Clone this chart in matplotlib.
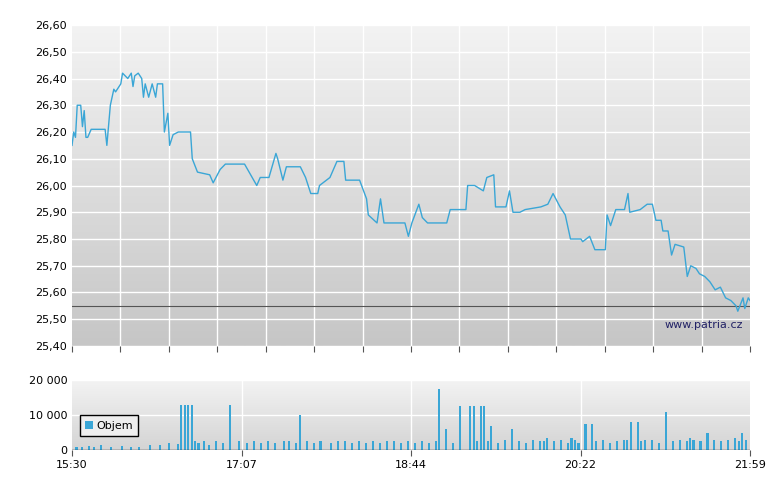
import matplotlib
matplotlib.use("Agg")
import matplotlib.pyplot as plt
import numpy as np

# minutes since 15:30
t_price = [0,1,2,3,5,6,7,8,9,11,16,19,20,22,24,25,28,29,32,34,35,36,38,40,41,42,44,46,48,49,52,53,55,56,58,61,68,69,72,79,81,85,88,99,106,108,113,117,118,121,123,131,134,137,141,142,148,152,156,157,165,169,170,175,177,179,191,193,195,199,201,204,215,217,226,227,231,236,238,242,243,249,251,253,257,260,269,273,276,280,283,286,292,293,297,300,306,307,309,312,317,319,320,326,330,333,335,338,339,342,344,346,351,353,355,358,360,363,366,369,372,375,378,381,382,385,386,388,389]
price = [26.15,26.20,26.18,26.30,26.30,26.22,26.28,26.18,26.18,26.21,26.21,26.21,26.15,26.30,26.36,26.35,26.38,26.42,26.40,26.42,26.37,26.41,26.42,26.40,26.33,26.38,26.33,26.38,26.33,26.38,26.38,26.20,26.27,26.15,26.19,26.20,26.20,26.10,26.05,26.04,26.01,26.06,26.08,26.08,26.00,26.03,26.03,26.12,26.10,26.02,26.07,26.07,26.03,25.97,25.97,26.00,26.03,26.09,26.09,26.02,26.02,25.95,25.89,25.86,25.95,25.86,25.86,25.81,25.86,25.93,25.88,25.86,25.86,25.91,25.91,26.00,26.00,25.98,26.03,26.04,25.92,25.92,25.98,25.90,25.90,25.91,25.92,25.93,25.97,25.92,25.89,25.80,25.80,25.79,25.81,25.76,25.76,25.89,25.85,25.91,25.91,25.97,25.90,25.91,25.93,25.93,25.87,25.87,25.83,25.83,25.74,25.78,25.77,25.66,25.70,25.69,25.67,25.66,25.64,25.61,25.62,25.58,25.57,25.55,25.53,25.58,25.54,25.58,25.57]
n = min(len(t_price), len(price))
t_price, price = t_price[:n], price[:n]
ref_price = 25.55

t_vol = [2,5,9,12,16,22,28,33,38,44,50,55,60,62,64,66,68,70,72,75,78,82,86,90,95,100,104,108,112,116,121,124,128,130,134,138,142,148,152,156,160,164,168,172,176,180,184,188,192,196,200,204,208,210,214,218,222,228,230,232,234,236,238,240,244,248,252,256,260,264,268,270,272,276,280,284,286,288,290,294,298,300,304,308,312,316,318,320,324,326,328,332,336,340,344,348,352,354,356,360,364,368,372,376,380,382,384,386,389]
vol = [800,1000,1200,900,1500,1000,1200,1000,800,1300,1500,2000,1800,13000,13000,13000,13000,2500,2000,2500,1500,2500,2000,13000,2500,2000,2500,2000,2500,2000,2500,2500,2000,10000,2500,2000,2500,2000,2500,2500,2000,2500,2000,2500,2000,2500,2500,2000,2500,2000,2500,2000,2500,17500,6000,2000,12500,12500,12500,2500,12500,12500,2500,7000,2000,3000,6000,2500,2000,3000,2500,2500,3500,2500,3000,2000,3500,3000,2000,7500,7500,2500,3000,2000,2500,3000,3000,8000,8000,2500,3000,3000,2000,11000,2500,3000,2500,3500,3000,2500,5000,3000,2500,3000,3500,2500,5000,3000,2500,2500,3000,2500,12500]
m = min(len(t_vol), len(vol))
t_vol, vol = t_vol[:m], vol[:m]

x_labels = ["15:30", "17:07", "18:44", "20:22", "21:59"]
T = 389
blue = "#3aa6d6"

fig = plt.figure(figsize=(7.8, 4.9), dpi=100)
ax = fig.add_axes([72/780, 144/490, 678/780, 321/490])
av = fig.add_axes([72/780, 40/490, 678/780, 70/490])

def grad(a, top, bot):
    g = np.linspace(0, 1, 256).reshape(-1, 1)
    c1 = np.array(matplotlib.colors.to_rgb(top)); c2 = np.array(matplotlib.colors.to_rgb(bot))
    img = c1 + (c2 - c1) * g[..., None]
    a.imshow(img, extent=[0, 1, 0, 1], transform=a.transAxes, aspect="auto", zorder=0)

grad(ax, "#f3f3f3", "#c6c6c6")
grad(av, "#f3f3f3", "#d4d4d4")

for a in (ax, av):
    for s in a.spines.values():
        s.set_visible(False)
    a.set_xlim(0, T)
    a.tick_params(labelsize=8, length=0)

ax.set_ylim(25.40, 26.60)
yt = np.round(np.arange(25.40, 26.601, 0.1), 2)
ax.set_yticks(yt)
ax.set_yticklabels([f"{v:.2f}".replace(".", ",") for v in yt])
for v in yt:
    ax.axhline(v, color="white", lw=1, zorder=1)
gx = np.linspace(0, T, 15)
for v in gx[1:-1]:
    ax.axvline(v, color="white", lw=1, zorder=1)
ax.set_xticks(gx)
ax.set_xticklabels([])
ax.tick_params(axis="x", length=4, direction="out", color="#555555")
ax.axhline(ref_price, color="#555555", lw=0.8, zorder=2)
ax.plot(t_price, price, color=blue, lw=1, zorder=3)
ax.text(0.99, 0.065, "www.patria.cz", transform=ax.transAxes, ha="right", va="center", fontsize=8, color="#222266")

av.set_ylim(0, 20000)
av.set_yticks([0, 10000, 20000])
av.set_yticklabels(["0", "10 000", "20 000"])
for v in (10000, 20000):
    av.axhline(v, color="white", lw=1, zorder=1)
qx = np.linspace(0, T, 5)
for v in qx[1:-1]:
    av.axvline(v, color="white", lw=1, zorder=1)
av.set_xticks(qx)
av.set_xticklabels(x_labels)
av.tick_params(axis="x", length=4, direction="out", color="#555555")
av.bar(t_vol, vol, width=1.2, color=blue, zorder=3, label="Objem", align="edge", linewidth=0)
av.axhline(0, color="#333333", lw=1, zorder=4)
leg = av.legend(loc="upper left", bbox_to_anchor=(0.003, 0.58), fontsize=8, frameon=True,
                fancybox=False, edgecolor="black", handlelength=0.7, handleheight=0.7,
                handletextpad=0.3, borderpad=0.5)
leg.get_frame().set_facecolor("#eeeeee")
leg.get_frame().set_alpha(1)

fig.savefig("out.png", dpi=100, facecolor="white")
